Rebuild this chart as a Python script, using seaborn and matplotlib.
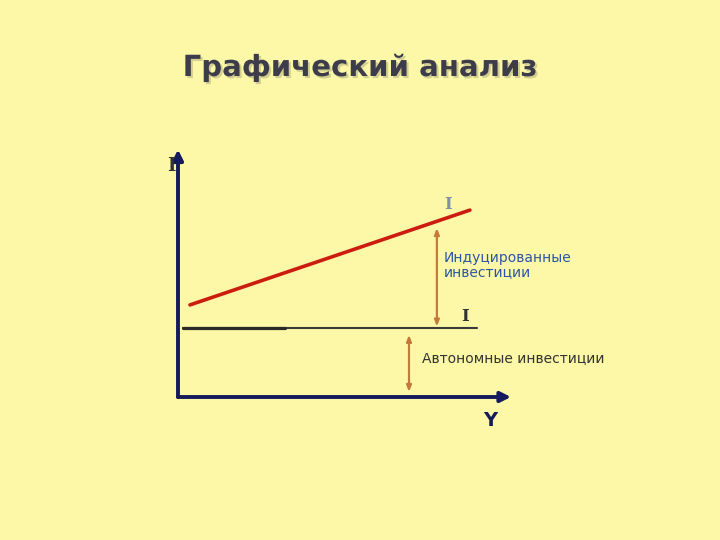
import matplotlib
matplotlib.use("Agg")
import matplotlib.pyplot as plt
import matplotlib.patheffects as pe
import seaborn as sns
import pandas as pd

sns.set_theme(style="white")
plt.rcParams['font.family'] = ['DejaVu Sans']

BG = "#FDF8A8"

# Data (units: abstract income Y and investment I)
induced_Y = [0.4, 9.73]
induced_I = [3.07, 6.23]
autonomous_Y = [0.17, 9.97]
autonomous_I = [2.3, 2.3]
autonomous_Y_left = [0.17, 3.57]
arrow_induced_Y = 8.63
arrow_induced_I = [2.35, 5.63]
arrow_auto_Y = 7.7
arrow_auto_I = [0.17, 2.07]
axis_Y_max = 11.1
axis_I_max = 8.25

title = "Графический анализ"
label_induced = "Индуцированные\nинвестиции"
label_auto = "Автономные инвестиции"

fig = plt.figure(figsize=(7.2, 5.4), dpi=100, facecolor=BG)
ax = fig.add_axes([0, 0, 1, 1], facecolor=BG)
ax.set_xlim(-178 / 30, (720 - 178) / 30)
ax.set_ylim(-(540 - 397) / 30, 397 / 30)
ax.axis("off")

df_ind = pd.DataFrame({"Y": induced_Y, "I": induced_I})
df_aut = pd.DataFrame({"Y": autonomous_Y, "I": autonomous_I})
df_aut_l = pd.DataFrame({"Y": autonomous_Y_left, "I": autonomous_I})

sns.lineplot(data=df_aut, x="Y", y="I", ax=ax, color="#3a3a3a", lw=1.5)
sns.lineplot(data=df_aut_l, x="Y", y="I", ax=ax, color="#2a2a2a", lw=2.3)
sns.lineplot(data=df_ind, x="Y", y="I", ax=ax, color="#cc1c10", lw=2.6)

navy = "#141a5c"
ax.annotate("", xy=(0, axis_I_max), xytext=(0, 0),
            arrowprops=dict(arrowstyle="-|>,head_length=0.5,head_width=0.25", color=navy, lw=2.8,
                            shrinkA=0, shrinkB=0))
ax.annotate("", xy=(axis_Y_max, 0), xytext=(0, 0),
            arrowprops=dict(arrowstyle="-|>,head_length=0.5,head_width=0.25", color=navy, lw=2.8,
                            shrinkA=0, shrinkB=0))

orange = "#c47a3a"
ax.annotate("", xy=(arrow_induced_Y, arrow_induced_I[0]), xytext=(arrow_induced_Y, arrow_induced_I[1]),
            arrowprops=dict(arrowstyle="<|-|>,head_length=0.3,head_width=0.12", color=orange, lw=1.6,
                            shrinkA=0, shrinkB=0))
ax.annotate("", xy=(arrow_auto_Y, arrow_auto_I[0]), xytext=(arrow_auto_Y, arrow_auto_I[1]),
            arrowprops=dict(arrowstyle="<|-|>,head_length=0.3,head_width=0.12", color=orange, lw=1.6,
                            shrinkA=0, shrinkB=0))

ax.text(-0.07, 7.7, "I", fontsize=13, fontweight="bold", color="#333333", ha="right", va="center",
        family="DejaVu Serif")
ax.text(9.0, 6.43, "I", fontsize=12, fontweight="bold", color="#8090a8", ha="center", va="center",
        family="DejaVu Serif")
ax.text(9.57, 2.67, "I", fontsize=12, fontweight="bold", color="#333333", ha="center", va="center",
        family="DejaVu Serif")
ax.text(8.87, 4.4, label_induced, fontsize=10, color="#2e56a8", ha="left", va="center",
        linespacing=1.05)
ax.text(8.13, 1.3, label_auto, fontsize=10, color="#333333", ha="left", va="center")
ax.text(10.4, -0.77, "Y", fontsize=14, fontweight="bold", color=navy, ha="center", va="center")

fig.text(0.5, 1 - 68 / 540, title, fontsize=21, fontweight="bold", color="#3c3c4a",
         ha="center", va="center",
         path_effects=[pe.withSimplePatchShadow(offset=(1.5, -1.5), shadow_rgbFace="#c8c48a", alpha=0.8)])

fig.savefig("out.png", dpi=100, facecolor=BG)
